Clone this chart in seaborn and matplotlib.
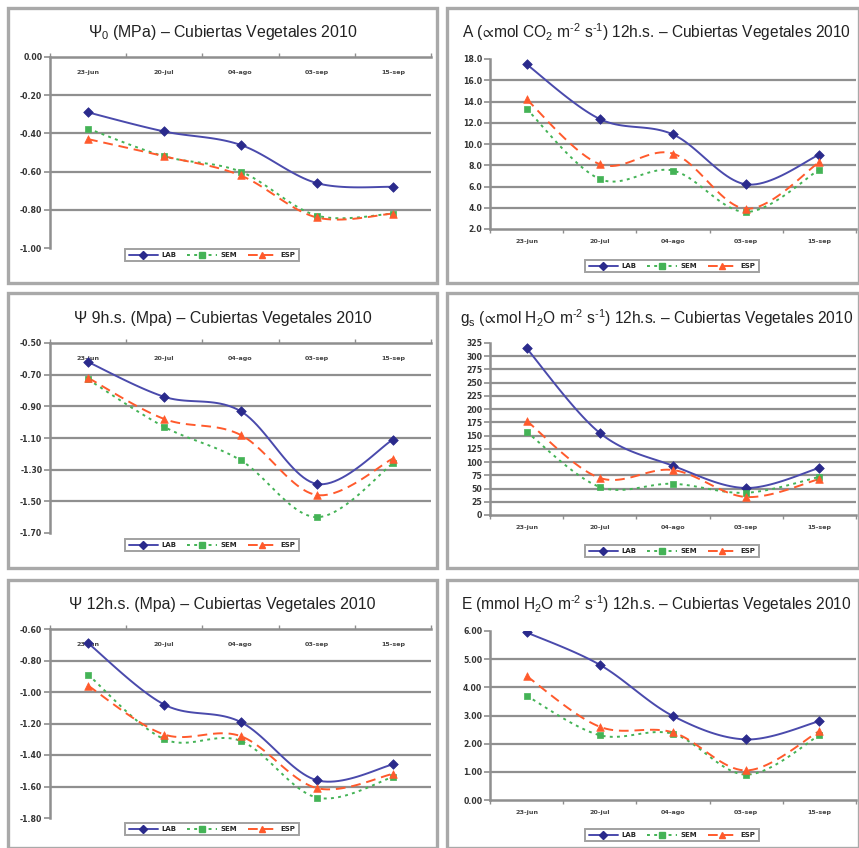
import numpy as np
import pandas as pd
import matplotlib
matplotlib.use("Agg")
import matplotlib.pyplot as plt
import seaborn as sns
from matplotlib.patches import Rectangle
from matplotlib.lines import Line2D

# ---------------- data ----------------
dates = ["23-jun", "20-jul", "04-ago", "03-sep", "15-sep"]
series_names = ["LAB", "SEM", "ESP"]

psi0_lab = [-0.29, -0.39, -0.46, -0.66, -0.68]
psi0_sem = [-0.375, -0.52, -0.60, -0.83, -0.82]
psi0_esp = [-0.43, -0.52, -0.62, -0.84, -0.82]
psi0_ticks = [0.00, -0.20, -0.40, -0.60, -0.80, -1.00]

a_lab = [17.5, 12.35, 10.9, 6.2, 9.0]
a_sem = [13.3, 6.7, 7.5, 3.6, 7.6]
a_esp = [14.2, 8.1, 9.1, 3.9, 8.3]
a_ticks = [18.0, 16.0, 14.0, 12.0, 10.0, 8.0, 6.0, 4.0, 2.0]

psi9_lab = [-0.62, -0.84, -0.93, -1.39, -1.11]
psi9_sem = [-0.73, -1.03, -1.24, -1.60, -1.26]
psi9_esp = [-0.72, -0.98, -1.08, -1.46, -1.23]
psi9_ticks = [-0.50, -0.70, -0.90, -1.10, -1.30, -1.50, -1.70]

gs_lab = [315, 155, 93, 51, 89]
gs_sem = [157, 53, 59, 42, 72]
gs_esp = [178, 70, 85, 34, 68]
gs_ticks = [325, 300, 275, 250, 225, 200, 175, 150, 125, 100, 75, 50, 25, 0]

psi12_lab = [-0.69, -1.08, -1.19, -1.56, -1.46]
psi12_sem = [-0.89, -1.30, -1.31, -1.67, -1.54]
psi12_esp = [-0.96, -1.27, -1.28, -1.61, -1.52]
psi12_ticks = [-0.60, -0.80, -1.00, -1.20, -1.40, -1.60, -1.80]

e_lab = [5.95, 4.8, 2.98, 2.15, 2.8]
e_sem = [3.7, 2.3, 2.35, 0.9, 2.3]
e_esp = [4.4, 2.6, 2.4, 1.05, 2.45]
e_ticks = [6.00, 5.00, 4.00, 3.00, 2.00, 1.00, 0.00]

titles = [
    r"$\Psi_0$ (MPa) – Cubiertas Vegetales 2010",
    r"A ($\!\propto\!$mol CO$_2$ m$^{‐2}$ s$^{‐1}$) 12h.s. – Cubiertas Vegetales 2010",
    r"Ψ 9h.s. (Mpa) – Cubiertas Vegetales 2010",
    r"g$_\mathrm{s}$ ($\!\propto\!$mol H$_2$O m$^{‐2}$ s$^{‐1}$) 12h.s. – Cubiertas Vegetales 2010",
    r"Ψ 12h.s. (Mpa) – Cubiertas Vegetales 2010",
    r"E (mmol H$_2$O m$^{‐2}$ s$^{‐1}$) 12h.s. – Cubiertas Vegetales 2010",
]

# ---------------- style ----------------
sns.set_style("white")
plt.rcParams["font.family"] = ["Liberation Sans", "DejaVu Sans"]
plt.rcParams["mathtext.fontset"] = "custom"
plt.rcParams["mathtext.rm"] = "Liberation Sans"
plt.rcParams["mathtext.it"] = "Liberation Sans:italic"
plt.rcParams["mathtext.bf"] = "Liberation Sans:bold"
plt.rcParams["mathtext.fallback"] = "stixsans"

W, H = 859, 848
fig = plt.figure(figsize=(W / 100, H / 100), dpi=100, facecolor="white")

C_LAB, C_SEM, C_ESP = "#4a4aac", "#44b356", "#ff5a2c"
MK_LAB = "#2a2a8c"
GRID = "#8f8f8f"
FRAME = "#a9a9a9"
YTICKFONT = dict(family="DejaVu Sans", weight="bold", size=5.6)
XTICKFONT = dict(family="DejaVu Sans", weight="bold", size=4.6)

styles = {
    "LAB": dict(color=C_LAB, ls="-", marker="D", mc=MK_LAB, ms=24),
    "SEM": dict(color=C_SEM, ls=(0, (1.5, 2.2)), marker="s", mc=C_SEM, ms=16),
    "ESP": dict(color=C_ESP, ls=(0, (5, 3)), marker="^", mc=C_ESP, ms=30),
}


def fr(x0, y0, x1, y1):
    return [x0 / W, 1 - y1 / H, (x1 - x0) / W, (y1 - y0) / H]


def smooth(ys, n=24):
    xs = np.arange(len(ys), dtype=float)
    P = np.column_stack([xs, np.asarray(ys, float)])
    P = np.vstack([P[0], P, P[-1]])
    out = []
    t = np.linspace(0, 1, n)[:, None]
    for i in range(1, len(P) - 2):
        p0, p1, p2, p3 = P[i - 1], P[i], P[i + 1], P[i + 2]
        c1 = p1 + (p2 - p0) / 6
        c2 = p2 - (p3 - p1) / 6
        seg = (1 - t) ** 3 * p1 + 3 * (1 - t) ** 2 * t * c1 + 3 * (1 - t) * t ** 2 * c2 + t ** 3 * p2
        out.append(seg if i == 1 else seg[1:])
    return np.vstack(out)


panels = [
    # (rect px, box px, series, ticks, fmt, axis on top, title y, legend centre)
    ((50, 57, 431, 248), (8, 8, 437, 283), (psi0_lab, psi0_sem, psi0_esp), psi0_ticks, "{:.2f}", True, 32, (212, 255)),
    ((490, 59, 856, 229), (447, 8, 859, 283), (a_lab, a_sem, a_esp), a_ticks, "{:.1f}", False, 32, (672, 266)),
    ((50, 343, 431, 533), (8, 293, 437, 568), (psi9_lab, psi9_sem, psi9_esp), psi9_ticks, "{:.2f}", True, 318, (212, 545)),
    ((490, 343, 856, 515), (447, 293, 859, 568), (gs_lab, gs_sem, gs_esp), gs_ticks, "{:d}", False, 318, (672, 551)),
    ((50, 629, 431, 818), (8, 580, 437, 848), (psi12_lab, psi12_sem, psi12_esp), psi12_ticks, "{:.2f}", True, 604, (212, 829)),
    ((490, 631, 856, 800), (447, 580, 859, 848), (e_lab, e_sem, e_esp), e_ticks, "{:.2f}", False, 604, (672, 835)),
]

handles = []
for name in series_names:
    s = styles[name]
    handles.append(Line2D([], [], color=s["color"], ls=s["ls"], lw=1.4, marker=s["marker"],
                          markersize=4.2, markerfacecolor=s["mc"], markeredgecolor=s["mc"]))

for i, (rect, box, series, ticks, fmt, top, ty, legc) in enumerate(panels):
    # frame of the chart box
    bx0, by0, bx1, by1 = box
    fig.patches.append(Rectangle((bx0 / W, 1 - by1 / H), (bx1 - bx0) / W, (by1 - by0) / H,
                                 transform=fig.transFigure, fill=False, ec=FRAME, lw=2.4, zorder=0))
    fig.text((bx0 + bx1) / 2 / W + (0.004 if bx0 > 400 else 0), 1 - ty / H, titles[i],
             ha="center", va="center", fontsize=11.4 if bx0 < 400 else 11.2, color="#222222")

    ax = fig.add_axes(fr(*rect))
    ax.set_facecolor("none")
    lo, hi = min(ticks), max(ticks)
    ax.set_ylim(lo, hi)
    ax.set_xlim(-0.5, 4.5)

    for t in ticks:
        if t not in (lo, hi):
            ax.axhline(t, color=GRID, lw=1.6, zorder=0)

    for name, vals in zip(series_names, series):
        s = styles[name]
        curve = smooth(vals)
        dfc = pd.DataFrame({"x": curve[:, 0], "y": curve[:, 1]})
        sns.lineplot(data=dfc, x="x", y="y", sort=False, estimator=None, ax=ax,
                     color=s["color"], linestyle=s["ls"], lw=1.4, zorder=3)
        dfp = pd.DataFrame({"x": np.arange(len(vals)), "y": vals})
        sns.scatterplot(data=dfp, x="x", y="y", ax=ax, marker=s["marker"], s=s["ms"],
                        color=s["mc"], edgecolor=s["mc"], linewidth=0.5, zorder=4)

    ax.set_xlabel("")
    ax.set_ylabel("")
    ax.set_yticks(ticks)
    ax.set_yticklabels([fmt.format(t) for t in ticks], fontdict=YTICKFONT, color="#333333")
    ax.set_xticks(range(len(dates)))
    ax.set_xticklabels(dates, fontdict=XTICKFONT, color="#444444")
    ax.set_xticks(np.arange(-0.5, len(dates), 1.0), minor=True)
    ax.tick_params(axis="y", which="major", direction="out", length=4, width=1.2,
                   color=GRID, pad=1.5, left=True)
    ax.tick_params(axis="x", which="major", length=0)

    for sp in ax.spines.values():
        sp.set_visible(False)
    ax.spines["left"].set_visible(True)
    ax.spines["left"].set_color(GRID)
    ax.spines["left"].set_linewidth(1.8)
    if top:
        ax.spines["top"].set_visible(True)
        ax.spines["top"].set_color(GRID)
        ax.spines["top"].set_linewidth(1.8)
        ax.xaxis.set_ticks_position("top")
        ax.tick_params(axis="x", which="major", labeltop=True, labelbottom=False, pad=-13)
        ax.tick_params(axis="x", which="minor", top=True, bottom=False, direction="out",
                       length=3, width=1, color=GRID)
    else:
        ax.spines["bottom"].set_visible(True)
        ax.spines["bottom"].set_color(GRID)
        ax.spines["bottom"].set_linewidth(1.8)
        ax.xaxis.set_ticks_position("bottom")
        ax.tick_params(axis="x", which="major", labelbottom=True, pad=7)
        ax.tick_params(axis="x", which="minor", bottom=True, direction="out",
                       length=3, width=1, color=GRID)

    leg = fig.legend(handles, series_names, loc="center",
                     bbox_to_anchor=(legc[0] / W, 1 - legc[1] / H), ncol=3,
                     prop=dict(family="DejaVu Sans", weight="bold", size=5.0),
                     handlelength=4.2, handletextpad=0.5, columnspacing=1.6,
                     frameon=True, fancybox=False, borderpad=0.5)
    leg.get_frame().set_edgecolor("#8a8a8a")
    leg.get_frame().set_linewidth(1.4)

fig.savefig("out.png", dpi=100, facecolor="white")
